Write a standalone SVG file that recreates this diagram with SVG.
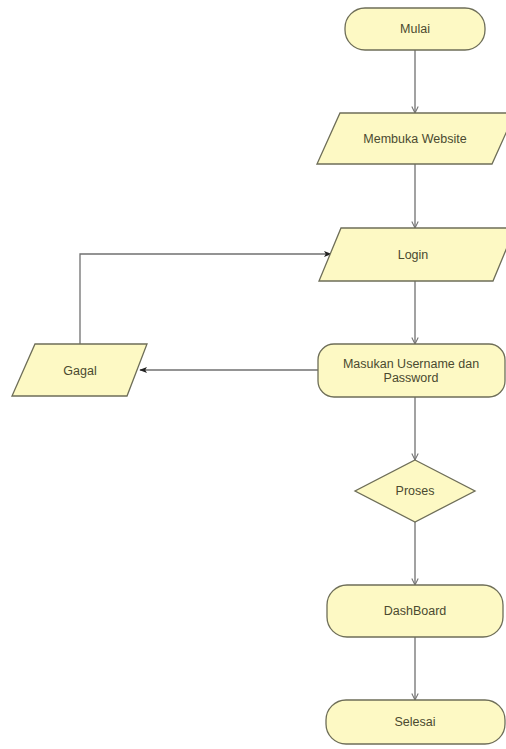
<svg xmlns="http://www.w3.org/2000/svg" width="506" height="749" viewBox="0 0 506 749">
<defs>
<style>
.n{fill:#FDF9C4;stroke:#6E6E58;stroke-width:1.3}
.t{font-family:"Liberation Sans",Arial,sans-serif;font-size:12.5px;fill:#4A4A30;text-anchor:middle}
.c{fill:none;stroke:#707070;stroke-width:1.3}
</style>
<marker id="open" viewBox="0 0 10 10" refX="9" refY="5" markerWidth="8" markerHeight="8" orient="auto" markerUnits="userSpaceOnUse">
<path d="M1,1 L9,5 L1,9" fill="none" stroke="#707070" stroke-width="1.3"/>
</marker>
<marker id="fill" viewBox="0 0 10 10" refX="9" refY="5" markerWidth="8" markerHeight="8" orient="auto" markerUnits="userSpaceOnUse">
<path d="M0,1 L10,5 L0,9 L2.5,5 Z" fill="#222"/>
</marker>
</defs>
<rect width="506" height="749" fill="#FFFFFF"/>
<g id="connectors">
<line class="c" x1="415" y1="50" x2="415" y2="113" marker-end="url(#open)"/>
<line class="c" x1="415" y1="164" x2="415" y2="228" marker-end="url(#open)"/>
<line class="c" x1="415" y1="281" x2="415" y2="344" marker-end="url(#open)"/>
<line class="c" x1="415" y1="397" x2="415" y2="460" marker-end="url(#open)"/>
<line class="c" x1="415" y1="522" x2="415" y2="585" marker-end="url(#open)"/>
<line class="c" x1="415" y1="637" x2="415" y2="700" marker-end="url(#open)"/>
<line class="c" x1="318" y1="370" x2="140" y2="370" marker-end="url(#fill)"/>
<polyline class="c" points="80,344 80,254 331,254" marker-end="url(#fill)"/>
</g>
<g id="mulai">
<rect class="n" x="345" y="8" width="140" height="42" rx="20" ry="20"/>
<text class="t" x="415" y="33">Mulai</text>
</g>
<g id="membuka">
<polygon class="n" points="340,113 515,113 492,164 317,164"/>
<text class="t" x="415" y="143">Membuka Website</text>
</g>
<g id="login">
<polygon class="n" points="341,228 515,228 493,281 319,281"/>
<text class="t" x="413" y="259">Login</text>
</g>
<g id="masukan">
<rect class="n" x="318" y="344" width="187" height="53" rx="16" ry="16"/>
<text class="t" x="411" y="368">Masukan Username dan</text>
<text class="t" x="411" y="382">Password</text>
</g>
<g id="gagal">
<polygon class="n" points="35,344 147,344 127,396 12,396"/>
<text class="t" x="80" y="375">Gagal</text>
</g>
<g id="proses">
<polygon class="n" points="415,460 475,491 415,522 355,491"/>
<text class="t" x="415" y="495">Proses</text>
</g>
<g id="dashboard">
<rect class="n" x="327" y="585" width="176" height="52" rx="20" ry="20"/>
<text class="t" x="415" y="615">DashBoard</text>
</g>
<g id="selesai">
<rect class="n" x="326" y="700" width="179" height="44" rx="20" ry="20"/>
<text class="t" x="415" y="726">Selesai</text>
</g>
</svg>
